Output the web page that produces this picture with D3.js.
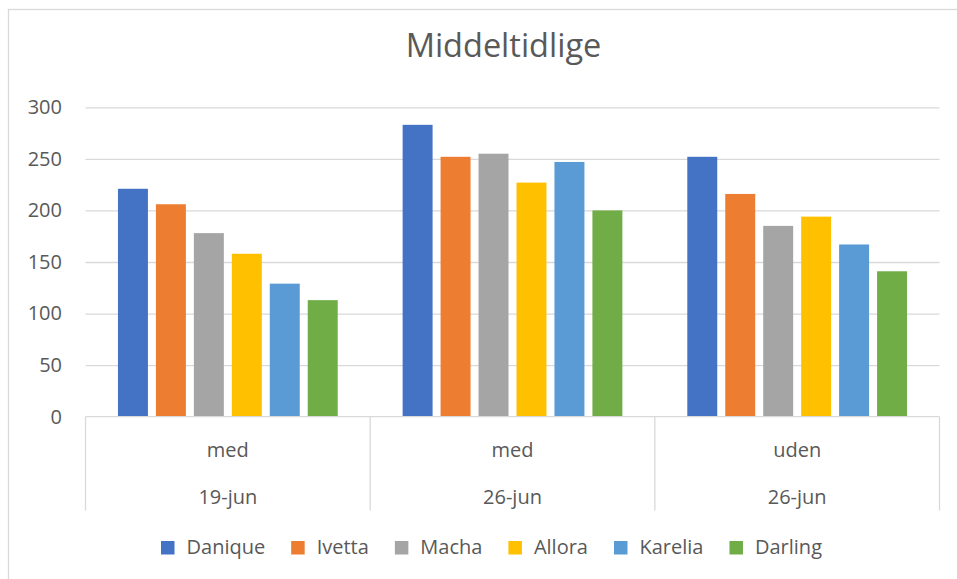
<!DOCTYPE html>
<html>
<head>
<meta charset="utf-8">
<script src="https://cdn.jsdelivr.net/npm/d3@7"></script>
<style>
  body { margin: 0; background: #fff; }
  svg { display: block; font-family: "Open Sans", sans-serif; }
  .grid line { stroke: #d9d9d9; stroke-width: 1.3; }
  .grid .domain { display: none; }
  .yaxis .domain, .yaxis line { display: none; }
  .yaxis text { fill: #595959; font-size: 20px; font-family: "Open Sans", sans-serif; }
  .cat { fill: #595959; font-size: 20px; }
  .legend text { fill: #595959; font-size: 20px; }
</style>
</head>
<body>
<svg width="957" height="579"></svg>
<script>
// data
const groups = ["med", "med", "uden"];
const dates = ["19-jun", "26-jun", "26-jun"];
const seriesNames = ["Danique", "Ivetta", "Macha", "Allora", "Karelia", "Darling"];
const seriesColors = ["#4472C4", "#ED7D31", "#A5A5A5", "#FFC000", "#5B9BD5", "#70AD47"];
const danique = [221, 283, 252];
const ivetta = [206, 252, 216];
const macha = [178, 255, 185];
const allora = [158, 227, 194];
const karelia = [129, 247, 167];
const darling = [113, 200, 141];
const yTicks = [0, 50, 100, 150, 200, 250, 300];

const seriesValues = [danique, ivetta, macha, allora, karelia, darling];

const svg = d3.select('svg');

// chart frame (runs off the right / bottom edges)
svg.append('rect')
  .attr('x', 8.5).attr('y', 9.5)
  .attr('width', 1000).attr('height', 600)
  .attr('fill', 'none')
  .attr('stroke', '#d9d9d9')
  .attr('stroke-width', 1.3);

const plotLeft = 85.5, plotRight = 939.5, plotTop = 107.3, plotBottom = 416.7;

const x0 = d3.scaleBand()
  .domain(d3.range(groups.length))
  .range([plotLeft, plotRight])
  .padding(0);

const x1 = d3.scaleBand()
  .domain(seriesNames)
  .range([0, x0.bandwidth()])
  .paddingInner(0.2105)
  .paddingOuter(0.855);

const y = d3.scaleLinear()
  .domain([0, 300])
  .range([plotBottom, plotTop]);

const color = d3.scaleOrdinal().domain(seriesNames).range(seriesColors);

// title
svg.append('text')
  .attr('x', 503.5)
  .attr('y', 57)
  .attr('text-anchor', 'middle')
  .attr('fill', '#595959')
  .style('font-size', '32.5px')
  .text('Middeltidlige');

// gridlines
svg.append('g')
  .attr('class', 'grid')
  .attr('transform', `translate(${plotLeft},0)`)
  .call(d3.axisLeft(y).tickValues(yTicks.filter(t => t > 0)).tickSize(-(plotRight - plotLeft)).tickFormat(''));

// y labels
svg.append('g')
  .attr('class', 'yaxis')
  .attr('transform', 'translate(62,0)')
  .call(d3.axisLeft(y).tickValues(yTicks).tickSize(0).tickPadding(0));

// bars
const rows = [];
seriesNames.forEach((name, s) => {
  seriesValues[s].forEach((v, g) => rows.push({ name, g, v }));
});

svg.append('g')
  .selectAll('rect')
  .data(rows)
  .enter()
  .append('rect')
  .attr('x', d => x0(d.g) + x1(d.name))
  .attr('y', d => y(d.v))
  .attr('width', x1.bandwidth())
  .attr('height', d => y(0) - y(d.v))
  .attr('fill', d => color(d.name));

// category axis
const catAxis = svg.append('g');
catAxis.append('line')
  .attr('x1', plotLeft).attr('x2', plotRight)
  .attr('y1', y(0)).attr('y2', y(0))
  .attr('stroke', '#d9d9d9').attr('stroke-width', 1.3);

const bounds = d3.range(groups.length + 1).map(i => i < groups.length ? x0(i) : x0(i - 1) + x0.bandwidth());
catAxis.selectAll('.sep')
  .data(bounds)
  .enter()
  .append('line')
  .attr('x1', d => d).attr('x2', d => d)
  .attr('y1', y(0)).attr('y2', 510.5)
  .attr('stroke', '#d9d9d9').attr('stroke-width', 1.3);

catAxis.selectAll('.grp')
  .data(groups)
  .enter()
  .append('text')
  .attr('class', 'cat')
  .attr('x', (d, i) => x0(i) + x0.bandwidth() / 2)
  .attr('y', 456.5)
  .attr('text-anchor', 'middle')
  .text(d => d);

catAxis.selectAll('.date')
  .data(dates)
  .enter()
  .append('text')
  .attr('class', 'cat')
  .attr('x', (d, i) => x0(i) + x0.bandwidth() / 2)
  .attr('y', 504)
  .attr('text-anchor', 'middle')
  .text(d => d);

// legend
const legend = svg.append('g').attr('class', 'legend');
let lx = 161;
seriesNames.forEach(name => {
  legend.append('rect')
    .attr('x', lx).attr('y', 541)
    .attr('width', 13.5).attr('height', 13.5)
    .attr('fill', color(name));
  const t = legend.append('text')
    .attr('x', lx + 25.5)
    .attr('y', 554)
    .text(name);
  lx += 25.5 + t.node().getComputedTextLength() + 26;
});
</script>
</body>
</html>
